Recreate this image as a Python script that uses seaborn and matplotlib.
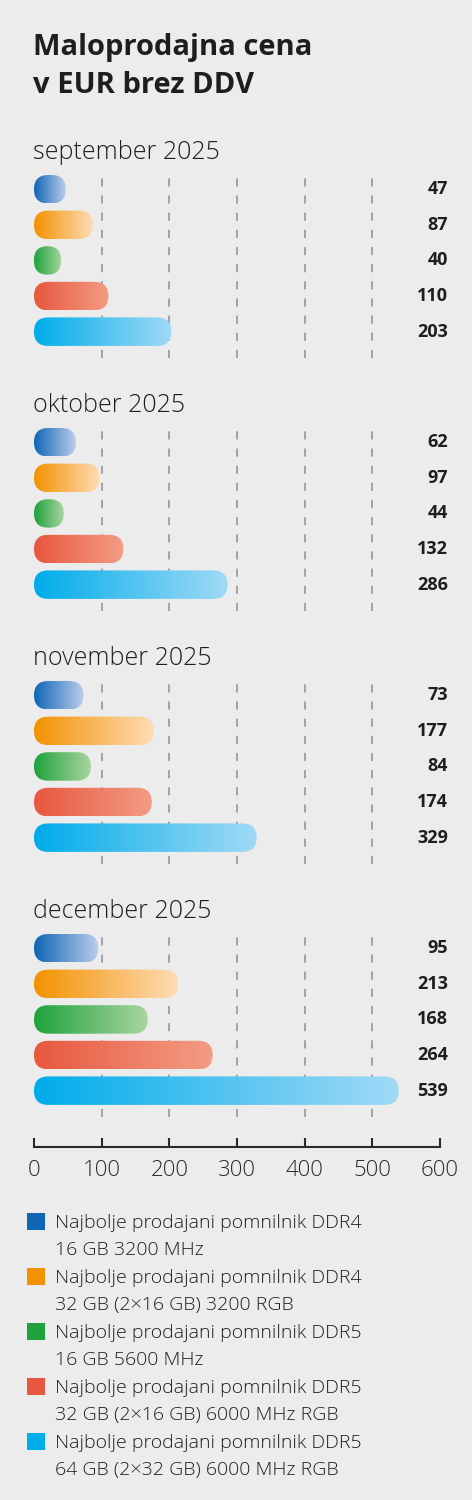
import numpy as np
import pandas as pd
import matplotlib
matplotlib.use("Agg")
import matplotlib.pyplot as plt
import seaborn as sns
from matplotlib.patches import FancyBboxPatch, Rectangle
from matplotlib.colors import to_rgb

# ---- data ----
MONTHS = ["september 2025", "oktober 2025", "november 2025", "december 2025"]
PRODUCTS = [
    "Najbolje prodajani pomnilnik DDR4\n16 GB 3200 MHz",
    "Najbolje prodajani pomnilnik DDR4\n32 GB (2×16 GB) 3200 RGB",
    "Najbolje prodajani pomnilnik DDR5\n16 GB 5600 MHz",
    "Najbolje prodajani pomnilnik DDR5\n32 GB (2×16 GB) 6000 MHz RGB",
    "Najbolje prodajani pomnilnik DDR5\n64 GB (2×32 GB) 6000 MHz RGB",
]
PRICE_SEP = [47, 87, 40, 110, 203]
PRICE_OKT = [62, 97, 44, 132, 286]
PRICE_NOV = [73, 177, 84, 174, 329]
PRICE_DEC = [95, 213, 168, 264, 539]
X_TICKS = [0, 100, 200, 300, 400, 500, 600]

BASE_COLORS = ["#0f66b5", "#f39200", "#1fa23c", "#e8573f", "#00acea"]
LIGHT_COLORS = ["#bccdec", "#fedcb6", "#a9d5a0", "#f29d84", "#a0daf6"]

df = pd.DataFrame({
    "month": np.repeat(MONTHS, len(PRODUCTS)),
    "product": PRODUCTS * len(MONTHS),
    "price": PRICE_SEP + PRICE_OKT + PRICE_NOV + PRICE_DEC,
})

# ---- style ----
BG = "#ececec"
TXT = "#1e1e1e"
FONT = "Open Sans"
sns.set_theme(style="white")
plt.rcParams["font.family"] = [FONT, "DejaVu Sans"]

W, H = 472, 1500
fig = plt.figure(figsize=(W / 100, H / 100), dpi=100)
fig.patch.set_facecolor(BG)


def fx(px):
    return px / W


def fy(py):
    return 1 - py / H


# title
fig.text(fx(33), fy(55), "Maloprodajna cena", fontsize=21, fontweight="bold", color=TXT, va="baseline")
fig.text(fx(33), fy(93), "v EUR brez DDV", fontsize=21, fontweight="bold", color=TXT, va="baseline")

X_LEFT, X_RIGHT = 34, 440
PANEL_TOP = [175, 428, 681, 934]
PANEL_H = 183

for k, month in enumerate(MONTHS):
    top = PANEL_TOP[k]
    fig.text(fx(33), fy(top - 16), month, fontsize=18, fontweight="light", color=TXT, va="baseline")

    ax = fig.add_axes([fx(X_LEFT), fy(top + PANEL_H), (X_RIGHT - X_LEFT) / W, PANEL_H / H])
    sub = df[df["month"] == month]
    sns.barplot(data=sub, x="price", y="product", order=PRODUCTS, hue="product",
                hue_order=PRODUCTS, palette=BASE_COLORS, legend=False, width=0.8,
                saturation=1, orient="h", ax=ax)
    ax.set_xlim(0, 600)
    ax.set_ylim(4.74, -0.4)
    ax.set_facecolor("none")
    for s in ax.spines.values():
        s.set_visible(False)
    ax.set_xticks(X_TICKS[1:-1])
    ax.tick_params(length=0, labelbottom=False, labelleft=False)
    ax.set_xlabel("")
    ax.set_ylabel("")
    ax.grid(axis="x", color="#9d9d9d", lw=1.3, linestyle=(0, (4.5, 5)))
    ax.set_axisbelow(True)

    # turn seaborn's bars into rounded gradient bars
    bars = list(ax.patches)
    for i, p in enumerate(bars):
        x0, y0, w, h = p.get_x(), p.get_y(), p.get_width(), p.get_height()
        (dx0, dy0), (dx1, dy1) = ax.transData.transform([(x0, y0 + h), (x0 + w, y0)])
        pw, ph = dx1 - dx0, dy1 - dy0
        r = min(pw, ph) / 2
        clip = FancyBboxPatch((dx0, dy0), pw, ph,
                              boxstyle=f"round,pad=0,rounding_size={r}")
        c0, c1 = np.array(to_rgb(BASE_COLORS[i])), np.array(to_rgb(LIGHT_COLORS[i]))
        t = np.linspace(0, 1, 256)[:, None]
        grad = (c0 * (1 - t) + c1 * t)[None, :, :]
        im = ax.imshow(grad, extent=(x0, x0 + w, y0 + h, y0), aspect="auto",
                       interpolation="bilinear", zorder=3)
        im.set_clip_path(clip)
        p.set_visible(False)
    ax.set_xlim(0, 600)
    ax.set_ylim(4.74, -0.4)

    for i, v in enumerate(sub["price"]):
        ax.text(1.0197, i, f"{v}", transform=ax.get_yaxis_transform(), ha="right",
                va="center", fontsize=13, fontweight="bold", color=TXT, clip_on=False)

# shared x axis
axx = fig.add_axes([fx(X_LEFT), fy(1147), (X_RIGHT - X_LEFT) / W, 20 / H])
axx.set_xlim(0, 600)
axx.set_facecolor("none")
axx.set_xticks(X_TICKS)
axx.set_xticklabels([str(t) for t in X_TICKS])
axx.set_yticks([])
for s in ["top", "left", "right"]:
    axx.spines[s].set_visible(False)
axx.spines["bottom"].set_color("#2a2a2a")
axx.spines["bottom"].set_linewidth(1.5)
axx.tick_params(axis="x", bottom=True, direction="in", length=6.5, width=1.5, color="#2a2a2a",
                labelsize=16, labelcolor="#2a2a2a", pad=9)
for lab in axx.get_xticklabels():
    lab.set_fontweight("light")

# legend
for j, (label, col) in enumerate(zip(PRODUCTS, BASE_COLORS)):
    yb = 1228 + 55 * j
    fig.add_artist(Rectangle((fx(27), fy(yb + 2)), 18 / W, 17 / H,
                             transform=fig.transFigure, color=col, lw=0))
    line1, line2 = label.split("\n")
    fig.text(fx(55), fy(yb), line1, fontsize=14, fontweight="light", color=TXT, va="baseline")
    fig.text(fx(55), fy(yb + 27), line2, fontsize=14, fontweight="light", color=TXT, va="baseline")

fig.savefig("out.png", dpi=100, facecolor=BG)
